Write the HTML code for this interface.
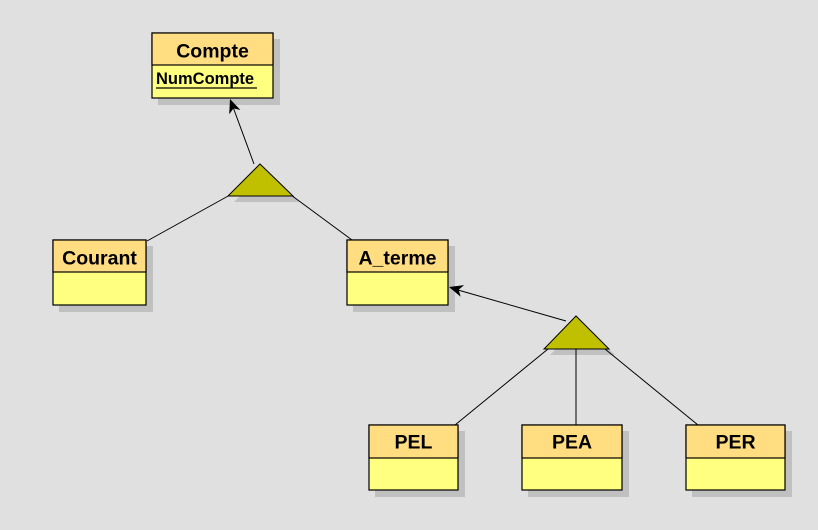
<!DOCTYPE html>
<html><head><style>
html,body{margin:0;padding:0;background:#e0e0e0;}
svg{display:block;}
text{font-family:"Liberation Sans",sans-serif;font-weight:bold;font-size:19.5px;fill:#000;}
</style></head><body>
<svg width="818" height="530" viewBox="0 0 818 530" xmlns="http://www.w3.org/2000/svg">
<g fill="#c0c0c0">
<rect x="158" y="39" width="122" height="66"/>
<rect x="59" y="246" width="94" height="66"/>
<rect x="353" y="246" width="102" height="66"/>
<rect x="375" y="431" width="90" height="66"/>
<rect x="528" y="431" width="101" height="66"/>
<rect x="692" y="431" width="100" height="66"/>
<polygon points="234,202 299,202 266,170"/>
<polygon points="550,355 615,355 582,322"/>
</g>
<g stroke="#000" stroke-width="1" fill="none">
<line x1="254" y1="164" x2="233" y2="107"/>
<line x1="230" y1="195" x2="147" y2="241"/>
<line x1="291" y1="195" x2="352" y2="240"/>
<line x1="566" y1="321" x2="458" y2="290"/>
<line x1="548" y1="349" x2="455" y2="425"/>
<line x1="576" y1="349" x2="576" y2="425"/>
<line x1="605" y1="349" x2="698" y2="425"/>
</g>
<polygon points="230,99 240.4,110 233.5,108.4 229.2,114.2" fill="#000"/>
<polygon points="449,287 464.1,285.1 458.6,289.8 460.7,296.7" fill="#000"/>
<polygon points="228,196 293,196 260,164" fill="#c0c000" stroke="#000" stroke-width="1"/>
<polygon points="544,349 609,349 576,316" fill="#c0c000" stroke="#000" stroke-width="1"/>
<g stroke="#000" stroke-width="1.2">
<rect x="152" y="33" width="121" height="65" fill="#ffff80"/>
<rect x="152" y="33" width="121" height="32" fill="#ffdd80"/>
<rect x="53" y="240" width="93" height="65" fill="#ffff80"/>
<rect x="53" y="240" width="93" height="32" fill="#ffdd80"/>
<rect x="347" y="240" width="101" height="65" fill="#ffff80"/>
<rect x="347" y="240" width="101" height="32" fill="#ffdd80"/>
<rect x="369" y="425" width="89" height="65" fill="#ffff80"/>
<rect x="369" y="425" width="89" height="33" fill="#ffdd80"/>
<rect x="522" y="425" width="100" height="65" fill="#ffff80"/>
<rect x="522" y="425" width="100" height="33" fill="#ffdd80"/>
<rect x="686" y="425" width="99" height="65" fill="#ffff80"/>
<rect x="686" y="425" width="99" height="33" fill="#ffdd80"/>
</g>
<text x="212.5" y="57.5" text-anchor="middle">Compte</text>
<text x="156" y="84" style="font-size:16.5px">NumCompte</text>
<line x1="156" y1="88" x2="257" y2="88" stroke="#000" stroke-width="1.2"/>
<text x="99.5" y="264.5" text-anchor="middle">Courant</text>
<text x="397.5" y="264.5" text-anchor="middle">A_terme</text>
<text x="413.5" y="448.5" text-anchor="middle">PEL</text>
<text x="572" y="448.5" text-anchor="middle">PEA</text>
<text x="735.5" y="448.5" text-anchor="middle">PER</text>
</svg>
</body></html>
